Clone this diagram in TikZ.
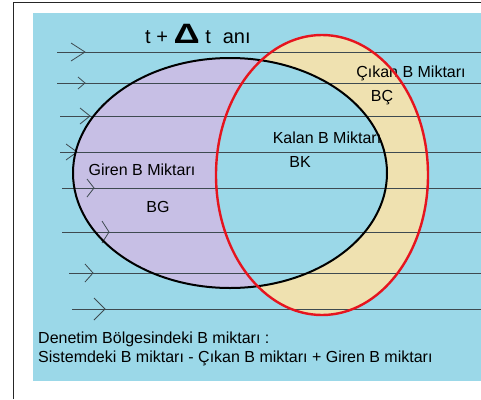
\documentclass[tikz,border=0pt]{standalone}
\usepackage{fontspec}
\setmainfont{Liberation Sans}
\definecolor{skyb}{RGB}{155,216,232}
\definecolor{lav}{RGB}{199,191,229}
\definecolor{sand}{RGB}{239,225,176}
\definecolor{streamcol}{RGB}{62,74,80}
\definecolor{redline}{RGB}{230,20,30}
\begin{document}
\begin{tikzpicture}[x=1pt,y=-1pt]
\tikzset{
  stream/.style={draw=streamcol, line width=0.9pt},
  chev/.style={draw=streamcol, line width=0.8pt},
  lbl/.style={font=\fontsize{16}{19}\selectfont, inner sep=0pt, anchor=base},
  lblw/.style={font=\fontsize{16}{19}\selectfont, inner sep=0pt, anchor=base west},
}
\useasboundingbox (0,0) rectangle (481,399);
% frame
\draw[line width=1.8pt, draw=black!85] (13.5,399) -- (13.5,2.5) -- (481,2.5);
% background
\fill[skyb] (33,13) rectangle (481,381);
% regions
\fill[lav] (230,173) ellipse [x radius=157pt, y radius=115pt];
\fill[sand] (322,175) ellipse [x radius=106pt, y radius=140pt];
\begin{scope}
  \clip (230,173) ellipse [x radius=157pt, y radius=115pt];
  \fill[skyb] (322,175) ellipse [x radius=106pt, y radius=140pt];
\end{scope}
% streamlines
\foreach \xs/\yy/\tip/\w/\h in {57/52/85/14/9, 57/83/85/7/6, 60/116/90/10/8, 60/152/77/11/8, 62/188/94/7/9, 62/232/109/7/11, 69/273/93/8/9, 72/309/105/11/11}{
  \draw[stream] (\xs,\yy) -- (481,\yy);
  \draw[chev] (\tip-\w,\yy-\h) -- (\tip,\yy) -- (\tip-\w,\yy+\h);
}
% labels
\node[lblw, font=\fontsize{20}{24}\selectfont] (title) at (145,43) {t + {\fontsize{28}{28}\selectfont\bfseries\scalebox{1.3}[1]{Δ}} t\hspace{0.6em}anı};
\node[lbl] (cikan) at (411,77) {Çıkan B Miktarı};
\node[lbl] (bc) at (382,101) {BÇ};
\node[lbl] (kalan) at (327,143) {Kalan B Miktarı};
\node[lbl] (bk) at (300,167) {BK};
\node[lbl] (giren) at (142,175) {Giren B Miktarı};
\node[lbl] (bg) at (158,212) {BG};
\node[lblw] (den) at (38,343) {Denetim Bölgesindeki B miktarı :};
\node[lblw] (sis) at (38,362) {Sistemdeki B miktarı - Çıkan B miktarı + Giren B miktarı};
% outlines
\draw[line width=2pt] (230,173) ellipse [x radius=157pt, y radius=115pt];
\draw[line width=2.4pt, draw=redline] (322,175) ellipse [x radius=106pt, y radius=140pt];
\end{tikzpicture}
\end{document}
